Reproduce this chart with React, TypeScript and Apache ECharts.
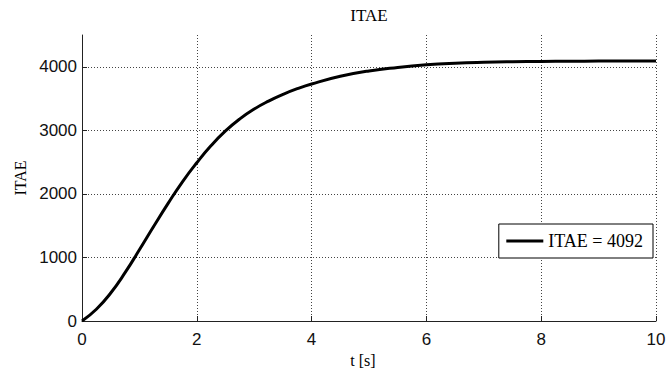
import React, { useEffect, useRef } from "react";
import * as echarts from "echarts";

const tValues = [0, 0.25, 0.5, 0.75, 1, 1.25, 1.5, 1.75, 2, 2.25, 2.5, 2.75, 3, 3.25, 3.5, 3.75, 4, 4.5, 5, 5.5, 6, 6.5, 7, 7.5, 8, 8.5, 9, 9.5, 10];
const itaeValues = [0, 185, 440, 760, 1120, 1490, 1850, 2190, 2490, 2760, 2990, 3180, 3335, 3460, 3565, 3655, 3730, 3850, 3935, 3990, 4030, 4055, 4070, 4079, 4084, 4087, 4090, 4091, 4092];
const yTicks = [0, 1000, 2000, 3000, 4000];
const xTicks = [0, 2, 4, 6, 8, 10];
const seriesName = "ITAE = 4092";
const titleText = "ITAE";
const xName = "t [s]";
const yName = "ITAE";

const serif = "'Liberation Serif', 'DejaVu Serif', serif";
const sans = "'Liberation Sans', Arial, sans-serif";

export default function App() {
  const ref = useRef<HTMLDivElement>(null);
  useEffect(() => {
    if (!ref.current) return;
    const chart = echarts.init(ref.current, null, { renderer: "svg" });
    const gridLine = { show: true, lineStyle: { color: "#444", width: 1, type: [1, 2] as any } };
    chart.setOption({
      animation: false,
      backgroundColor: "#fff",
      title: {
        text: titleText,
        left: 364,
        top: 2,
        textAlign: "center",
        textStyle: { fontFamily: serif, fontSize: 17, fontWeight: "normal", color: "#000" },
      },
      grid: { left: 82, right: 13, top: 35, bottom: 58, containLabel: false },
      legend: {
        show: true,
        right: 16,
        top: 224,
        backgroundColor: "#fff",
        borderColor: "#000",
        borderWidth: 1,
        borderRadius: 0,
        padding: [8, 10, 8, 6],
        itemWidth: 37,
        itemHeight: 14,
        itemStyle: { opacity: 0 },
        lineStyle: { width: 3, color: "#000" },
        textStyle: { fontFamily: serif, fontSize: 18, color: "#000" },
      },
      xAxis: {
        type: "value",
        min: xTicks[0],
        max: xTicks[xTicks.length - 1],
        interval: 2,
        name: xName,
        nameLocation: "middle",
        nameGap: 30,
        nameTextStyle: { fontFamily: serif, fontSize: 16, color: "#000", padding: [0, 12, 0, 0] },
        axisLine: { show: true, lineStyle: { color: "#222", width: 1 } },
        axisTick: { show: true, inside: true, length: 5, lineStyle: { color: "#222" } },
        axisLabel: { fontFamily: sans, fontSize: 17, color: "#111", margin: 10, formatter: (v: number) => String(v) },
        splitLine: { ...gridLine, showMinLine: false },
      },
      yAxis: {
        type: "value",
        min: 0,
        max: 4500,
        interval: 1000,
        name: yName,
        nameLocation: "middle",
        nameGap: 52,
        nameTextStyle: { fontFamily: serif, fontSize: 16, color: "#000" },
        axisLine: { show: true, lineStyle: { color: "#222", width: 1 } },
        axisTick: { show: true, inside: true, length: 5, lineStyle: { color: "#222" }, customValues: yTicks },
        axisLabel: {
          fontFamily: sans,
          fontSize: 17,
          color: "#111",
          margin: 5,
          customValues: yTicks,
          formatter: (v: number) => String(v),
        },
        splitLine: { ...gridLine, showMinLine: false },
      },
      series: [
        {
          name: seriesName,
          type: "line",
          data: tValues.map((t, i) => [t, itaeValues[i]]),
          smooth: true,
          symbol: "none",
          lineStyle: { color: "#000", width: 3 },
          itemStyle: { color: "#000" },
        },
      ],
    });
    return () => chart.dispose();
  }, []);
  return <div ref={ref} style={{ position: "fixed", left: 0, top: 0, width: 669, height: 379 }} />;
}
